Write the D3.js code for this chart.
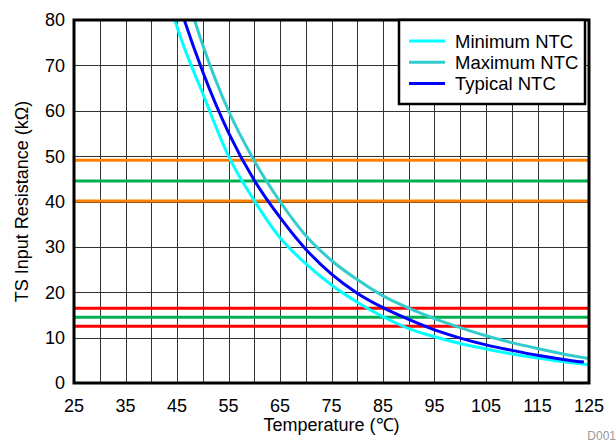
<!DOCTYPE html>
<html>
<head>
<meta charset="utf-8">
<script src="https://cdn.jsdelivr.net/npm/d3@7"></script>
<style>
  body { margin: 0; background: #fff; }
  text { font-family: "Liberation Sans", Arial, sans-serif; }
</style>
</head>
<body>
<div id="main"></div>
<script>
const ctx = {
    w: 616,
    h: 443,
    left: 74, right: 589, top: 20, bottom: 383
};

// temperatures (°C) and resistances (kΩ)
const temps   = [40, 45, 50, 55, 60, 65, 70, 75, 80, 85, 90, 95, 100, 105, 110, 115, 120, 125];
const minNTC  = [100, 78.5, 63.8, 50, 40.2, 32, 26.3, 21.6, 17.8, 14.6, 12.0, 10.2, 8.7, 7.5, 6.4, 5.5, 4.7, 4.0];
const maxNTC  = [115, 93, 74.5, 60, 49, 40, 32.5, 27, 22.8, 19.2, 16.5, 14.2, 12.2, 10.4, 8.9, 7.6, 6.4, 5.4];
const typTemps = [40, 45, 50, 55, 60, 65, 70, 75, 80, 85, 90, 95, 100, 105, 110, 115, 120, 124];
const typNTC  = [105, 85, 68.6, 55.2, 44.7, 36.5, 29.5, 24, 19.8, 16.6, 14.0, 11.7, 9.9, 8.4, 7.2, 6.1, 5.2, 4.6];

// threshold levels (kΩ)
const thresholds = [49.1, 44.5, 40.1, 16.5, 14.5, 12.5];
const thresholdColors = ["#ff8000", "#00b050", "#ff8000", "#ff0000", "#00b050", "#ff0000"];

const xTicks = [25, 35, 45, 55, 65, 75, 85, 95, 105, 115, 125];
const yTicks = [0, 10, 20, 30, 40, 50, 60, 70, 80];

const seriesNames = ["Minimum NTC", "Maximum NTC", "Typical NTC"];
const seriesColors = ["#00ffff", "#33cccc", "#0000ff"];

function createViz() {
    const svg = d3.select("#main").append("svg")
        .attr("width", ctx.w).attr("height", ctx.h);

    const x = d3.scaleLinear().domain([25, 125]).range([ctx.left, ctx.right]);
    const y = d3.scaleLinear().domain([0, 80]).range([ctx.bottom, ctx.top]);

    // grid
    const grid = svg.append("g").attr("stroke", "#333").attr("stroke-width", 1);
    grid.selectAll(".vg").data(d3.range(30, 125, 5)).enter().append("line")
        .attr("x1", d => Math.round(x(d)) + 0.5).attr("x2", d => Math.round(x(d)) + 0.5)
        .attr("y1", ctx.top).attr("y2", ctx.bottom);
    grid.selectAll(".hg").data(d3.range(10, 80, 10)).enter().append("line")
        .attr("y1", d => Math.round(y(d)) + 0.5).attr("y2", d => Math.round(y(d)) + 0.5)
        .attr("x1", ctx.left).attr("x2", ctx.right);

    svg.append("clipPath").attr("id", "plot-clip").append("rect")
        .attr("x", ctx.left).attr("y", ctx.top)
        .attr("width", ctx.right - ctx.left).attr("height", ctx.bottom - ctx.top);

    const plot = svg.append("g").attr("clip-path", "url(#plot-clip)");

    // threshold lines
    plot.selectAll(".thr").data(thresholds).enter().append("line")
        .attr("x1", ctx.left).attr("x2", ctx.right)
        .attr("y1", d => y(d)).attr("y2", d => y(d))
        .attr("stroke", (d, i) => thresholdColors[i])
        .attr("stroke-width", 3);

    // curves
    const series = [
        {t: temps, v: minNTC},
        {t: temps, v: maxNTC},
        {t: typTemps, v: typNTC}
    ];
    const line = d3.line()
        .x(d => x(d[0])).y(d => y(d[1]))
        .curve(d3.curveMonotoneX);
    plot.selectAll(".curve").data(series).enter().append("path")
        .attr("d", s => line(s.t.map((t, i) => [t, s.v[i]])))
        .attr("fill", "none")
        .attr("stroke", (d, i) => seriesColors[i])
        .attr("stroke-width", 3);

    // frame
    svg.append("rect")
        .attr("x", ctx.left).attr("y", ctx.top)
        .attr("width", ctx.right - ctx.left).attr("height", ctx.bottom - ctx.top)
        .attr("fill", "none").attr("stroke", "#000").attr("stroke-width", 3);

    // tick labels
    svg.selectAll(".xl").data(xTicks).enter().append("text")
        .attr("x", d => x(d)).attr("y", 412)
        .attr("text-anchor", "middle").attr("font-size", 18)
        .text(d => d);
    svg.selectAll(".yl").data(yTicks).enter().append("text")
        .attr("x", 65).attr("y", d => y(d)).attr("dy", "0.36em")
        .attr("text-anchor", "end").attr("font-size", 18)
        .text(d => d);

    // axis titles
    svg.append("text")
        .attr("x", (ctx.left + ctx.right) / 2).attr("y", 431)
        .attr("text-anchor", "middle").attr("font-size", 18)
        .text("Temperature (℃)");
    svg.append("text")
        .attr("transform", `translate(28,${(ctx.top + ctx.bottom) / 2}) rotate(-90)`)
        .attr("text-anchor", "middle").attr("font-size", 18)
        .text("TS Input Resistance (kΩ)");

    svg.append("text")
        .attr("x", 616).attr("y", 440)
        .attr("text-anchor", "end").attr("font-size", 12).attr("fill", "#999")
        .text("D001");

    // legend
    const lg = svg.append("g");
    lg.append("rect")
        .attr("x", 399).attr("y", 20).attr("width", 186).attr("height", 84)
        .attr("fill", "#fff").attr("stroke", "#000").attr("stroke-width", 2.5);
    const item = lg.selectAll(".li").data(seriesNames).enter().append("g")
        .attr("transform", (d, i) => `translate(0,${41 + i * 21.2})`);
    item.append("line")
        .attr("x1", 409).attr("x2", 445).attr("y1", 0).attr("y2", 0)
        .attr("stroke", (d, i) => seriesColors[i]).attr("stroke-width", 3);
    item.append("text")
        .attr("x", 455).attr("dy", "0.36em").attr("font-size", 18.5)
        .text(d => d);
}

createViz();
</script>
</body>
</html>
